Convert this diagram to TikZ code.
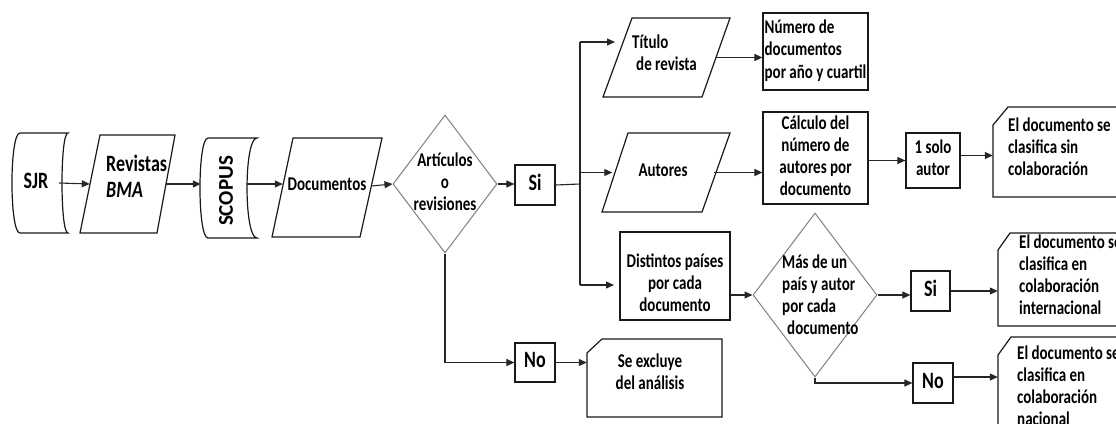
\documentclass[tikz,border=0pt]{standalone}
\usepackage{fontspec}
\usetikzlibrary{arrows.meta,shapes.geometric}
\newfontfamily\carl{Carlito}
\newcommand\txt{\carl\bfseries\fontsize{15}{17}\selectfont}
\newcommand\bigtxt{\carl\bfseries\fontsize{18}{20.5}\selectfont}
\newcommand\TxC[1]{\scalebox{1}[1.3]{\begin{tabular}{@{}c@{}}#1\end{tabular}}}
\newcommand\TxL[1]{\scalebox{1}[1.3]{\begin{tabular}{@{}l@{}}#1\end{tabular}}}
\tikzset{
  ln/.style={line width=1.1pt, draw=black!85},
  arr/.style={ln, -{Triangle[length=8pt,width=7pt]}},
  box/.style={draw=black!90, line width=1.2pt, rectangle, inner sep=0pt, font=\txt},
  ghost/.style={draw=none, rectangle, inner sep=0pt, font=\txt},
  dia/.style={draw=black!50, line width=1pt, diamond, inner sep=0pt},
  outl/.style={draw=black!90, line width=1.2pt, line join=miter},
  lbl/.style={inner sep=0pt, font=\txt},
}
\begin{document}
\begin{tikzpicture}[x=1pt,y=-1pt]
\useasboundingbox (0,0) rectangle (1116,423);
\clip (0,0) rectangle (1116,423);

% SJR
\draw[outl] (20,133) -- (68,133) .. controls (60,133) and (60,233) .. (68,233) -- (20,233) .. controls (9.3,233) and (9.3,133) .. (20,133) -- cycle;
\node[ghost, font=\bigtxt, minimum width=46pt, minimum height=100pt] (sjr) at (36,183) {\TxC{SJR}};

% Revistas BMA
\draw[outl] (100,135) -- (175,135) -- (157,233) -- (80,233) -- cycle;
\node[ghost, minimum width=76pt, minimum height=98pt] (rev) at (128,184) {};
\node[lbl, font=\bigtxt, anchor=west] (revt) at (106,179) {\TxL{Revistas\\\itshape BMA}};

% SCOPUS
\draw[outl] (208,138) -- (257,138) .. controls (243.7,138) and (243.7,238) .. (257,238) -- (208,238) .. controls (197.3,238) and (197.3,138) .. (208,138) -- cycle;
\node[ghost, minimum width=46pt, minimum height=100pt] (sco) at (224,184) {};
\node[lbl, font=\carl\bfseries\fontsize{21}{24}\selectfont, rotate=90] (scot) at (226,191) {SCOPUS};

% Documentos
\draw[outl] (293,138) -- (382,138) -- (360,237) -- (272,237) -- cycle;
\node[ghost, minimum width=88pt, minimum height=99pt] (doc) at (327,186) {\TxC{Documentos}};

% decision 1
\node[dia, minimum width=104pt, minimum height=138pt] (d1) at (445,184) {};
\node[lbl] (d1t) at (445,184) {\TxC{Artículos\\o\\revisiones}};

\node[box, font=\bigtxt, minimum width=40pt, minimum height=40pt] (si1) at (535,185) {\TxC{Si}};
\node[box, font=\bigtxt, minimum width=40pt, minimum height=39pt] (no1) at (535,362.5) {\TxC{No}};

% Se excluye
\draw[outl] (587,353) -- (602,339) -- (722,339) -- (722,417) -- (587,417) -- cycle;
\node[ghost, minimum width=135pt, minimum height=78pt] (c4) at (654.5,378) {};
\node[lbl] (c4t) at (650,374) {\TxC{Se excluye\\del análisis}};

% Titulo de revista
\draw[outl] (632,18) -- (730,18) -- (702,97) -- (603,97) -- cycle;
\node[ghost, minimum width=98pt, minimum height=79pt] (tit) at (667,57.5) {};
\node[lbl, anchor=west] (titt) at (632,55.5) {\TxL{Título\\\hspace{4pt}de revista}};

\node[box, minimum width=105pt, minimum height=77pt] (num) at (815.5,51.5) {\TxL{Número de\\documentos\\por año y cuartil}};

% Autores
\draw[outl] (628,133) -- (730,133) -- (702,212) -- (602,212) -- cycle;
\node[ghost, minimum width=101pt, minimum height=79pt] (aut) at (663,172.5) {\TxC{Autores}};

\node[box, minimum width=105pt, minimum height=92pt] (cal) at (815.5,158) {\TxC{Cálculo del\\número de\\autores por\\documento}};
\node[box, minimum width=54pt, minimum height=55pt] (solo) at (933,160.5) {\TxC{1 solo\\autor}};

% card 1
\draw[outl] (993,125) -- (1008,107) -- (1130,107) -- (1130,197) -- (993,197) -- cycle;
\node[ghost, minimum width=137pt, minimum height=90pt] (c1) at (1061.5,152) {};
\node[lbl, anchor=west] (c1t) at (1008,149) {\TxL{El documento se\\clasifica sin\\colaboración}};

% Distintos paises
\node[box, minimum width=110pt, minimum height=88pt] (dis) at (675,276) {};
\node[lbl] (dist) at (675,285) {\TxC{Distintos países\\por cada\\documento}};

% decision 2
\node[dia, minimum width=124pt, minimum height=164pt] (d2) at (815,295) {};
\node[lbl, anchor=west] (d2t) at (782,297) {\TxL{Más de un\\país y autor\\por cada\\\hspace{5pt}documento}};

\node[box, font=\bigtxt, minimum width=39pt, minimum height=40pt] (si2) at (930.5,291) {\TxC{Si}};
\node[box, font=\bigtxt, minimum width=40pt, minimum height=40pt] (no2) at (933,383) {\TxC{No}};

% card 2
\draw[outl] (998,250) -- (1010,233) -- (1130,233) -- (1130,326) -- (998,326) -- cycle;
\node[ghost, minimum width=132pt, minimum height=93pt] (c2) at (1064,279.5) {};
\node[lbl, anchor=west] (c2t) at (1019,277) {\TxL{El documento se\\clasifica en\\colaboración\\internacional}};

% card 3
\draw[outl] (998,355) -- (1011,337) -- (1130,337) -- (1130,450) -- (998,450) -- cycle;
\node[ghost, minimum width=132pt, minimum height=113pt] (c3) at (1064,393.5) {};
\node[lbl, anchor=west] (c3t) at (1017,388) {\TxL{El documento se\\clasifica en\\colaboración\\nacional}};

% connectors
\draw[arr] (sjr.east) -- (rev.west);
\draw[arr] (rev.east) -- (rev.east -| sco.west);
\draw[arr] (sco.east) -- (sco.east -| doc.west);
\draw[arr] (doc.east) -- (d1.west);
\draw[arr] (d1.east) -- (d1.east -| si1.west);
\draw[arr] (d1.south) |- (no1.west);
\draw[arr] (no1.east) -- (no1.east -| c4.west);

\coordinate (tr) at (580,184);
\coordinate (ttop) at (580,42);
\coordinate (tbot) at (580,285);
\coordinate (titin) at (615,42);
\coordinate (disin) at (614,285);
\draw[ln] (si1.east) -- (tr);
\draw[ln] (ttop) -- (tbot);
\draw[arr] (ttop) -- (titin);
\draw[arr] (tbot) -- (disin);
\draw[arr] (tr |- aut.west) -- (aut.west);

\draw[arr] (tit.east) -- (tit.east -| num.west);
\draw[arr] (aut.east) -- (aut.east -| cal.west);
\draw[arr] (cal.east |- solo.west) -- (solo.west);
\draw[arr] ([yshift=5pt]solo.east) -- ([yshift=5pt]solo.east -| c1.west);

\draw[arr] (dis.east |- d2.west) -- (d2.west);
\draw[arr] (d2.east) -- (d2.east -| si2.west);
\draw[arr] (si2.east) -- (si2.east -| c2.west);
\draw[arr] (d2.south) |- (no2.west);
\draw[arr] ([yshift=6pt]no2.east) -- ([yshift=6pt]no2.east -| c3.west);
\end{tikzpicture}
\end{document}
